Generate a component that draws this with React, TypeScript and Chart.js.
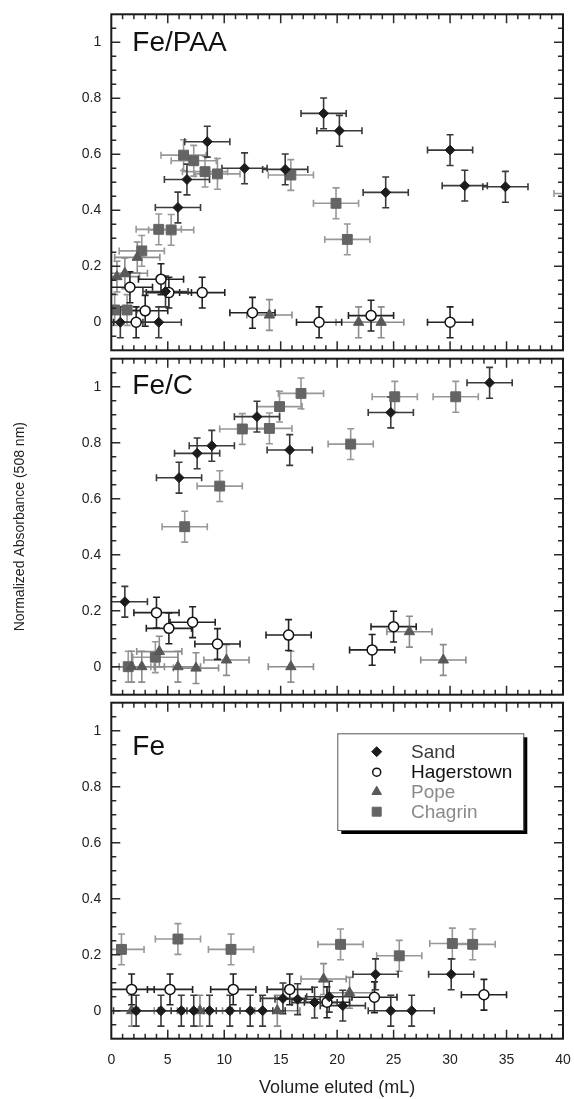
import React, { useEffect, useRef } from 'react';
import { Chart, registerables } from 'chart.js';

Chart.register(...registerables);

type P = [number, number];

const SERIES = ['Sand', 'Hagerstown', 'Pope', 'Chagrin'];
const X_TICK_VALUES = [0, 5, 10, 15, 20, 25, 30, 35, 40];
const X_TICK_LABELS = ['0', '5', '10', '15', '20', '25', '30', '35', '40'];
const Y_TICK_VALUES = [0, 0.2, 0.4, 0.6, 0.8, 1];
const Y_TICK_LABELS = ['0', '0.2', '0.4', '0.6', '0.8', '1'];
const X_ERR = 2;
const Y_ERR = 0.055;

// Fe/PAA panel
const paaSand: P[] = [[0.8, 0.0], [4.2, 0.0], [4.8, 0.11], [5.9, 0.41], [6.7, 0.51], [8.5, 0.645], [11.8, 0.55], [15.4, 0.546], [18.8, 0.746], [20.2, 0.684], [24.3, 0.464], [30.0, 0.615], [31.3, 0.488], [34.9, 0.484]];
const paaHager: P[] = [[1.65, 0.125], [2.2, 0.0], [3.0, 0.041], [4.4, 0.154], [5.1, 0.106], [8.05, 0.106], [12.5, 0.034], [18.4, 0.0], [23.0, 0.024], [30.0, 0.0]];
const paaPope: P[] = [[0.5, 0.163], [1.2, 0.175], [2.3, 0.232], [14.0, 0.026], [21.9, 0.0], [23.9, 0.0]];
const paaChagrin: P[] = [[0.3, 0.044], [1.4, 0.044], [2.7, 0.255], [4.2, 0.332], [5.3, 0.33], [6.4, 0.597], [7.3, 0.577], [8.3, 0.538], [9.4, 0.53], [15.9, 0.526], [19.9, 0.425], [20.9, 0.296], [41.2, 0.46]];

// Fe/C panel
const cSand: P[] = [[1.2, 0.232], [6.0, 0.675], [7.6, 0.762], [8.9, 0.789], [12.9, 0.893], [15.8, 0.774], [24.75, 0.908], [33.5, 1.014]];
const cHager: P[] = [[4.0, 0.193], [5.1, 0.137], [7.2, 0.159], [9.4, 0.081], [15.7, 0.113], [23.1, 0.06], [25.0, 0.143]];
const cPope: P[] = [[1.8, 0.0], [2.7, 0.0], [4.25, 0.054], [5.9, 0.0], [7.5, -0.005], [10.2, 0.024], [15.9, 0.0], [26.4, 0.125], [29.4, 0.024]];
const cChagrin: P[] = [[1.5, 0.0], [3.9, 0.034], [6.5, 0.5], [9.6, 0.645], [11.6, 0.849], [14.0, 0.851], [14.9, 0.929], [16.8, 0.976], [21.2, 0.795], [25.1, 0.964], [30.5, 0.964]];

// Fe panel
const feSand: P[] = [[2.2, 0], [4.4, 0], [6.2, 0], [7.3, 0], [8.7, 0], [10.5, 0], [12.3, 0], [13.4, 0], [15.2, 0.044], [16.5, 0.041], [18.0, 0.029], [19.3, 0.05], [20.5, 0.018], [23.4, 0.13], [24.75, 0], [26.6, 0], [30.1, 0.13]];
const feHager: P[] = [[1.8, 0.076], [5.2, 0.076], [10.8, 0.076], [15.8, 0.076], [19.1, 0.03], [23.3, 0.048], [33.0, 0.057]];
const fePope: P[] = [[1.8, 0], [7.85, 0], [14.7, 0], [18.8, 0.113], [21.1, 0.064]];
const feChagrin: P[] = [[0.9, 0.219], [5.9, 0.256], [10.6, 0.219], [20.3, 0.237], [25.5, 0.196], [30.2, 0.24], [32.0, 0.237]];

const FONT = '"Liberation Sans", Arial, Helvetica, sans-serif';
Chart.defaults.font.family = FONT;
Chart.defaults.color = '#222';

const STY = [
  { shape: 'rectRot', r: 5, fill: '#1c1c1c', stroke: '#1c1c1c', bw: 1, bar: '#3a3a3a', text: '#3a3a3a' },
  { shape: 'circle', r: 5, fill: '#ffffff', stroke: '#111111', bw: 1.5, bar: '#222222', text: '#111111' },
  { shape: 'triangle', r: 6, fill: '#585858', stroke: '#585858', bw: 1, bar: '#8c8c8c', text: '#8a8a8a' },
  { shape: 'rect', r: 7, fill: '#646464', stroke: '#646464', bw: 1, bar: '#989898', text: '#8a8a8a' },
];

const PANELS = [
  { top: 0, h: 354, padTop: 14.3, padBottom: 3.7, showX: false, yTitle: false, label: 'Fe/PAA', labelDy: 36.4, legend: false, series: [paaSand, paaHager, paaPope, paaChagrin] },
  { top: 354, h: 345, padTop: 4.7, padBottom: 4.3, showX: false, yTitle: true, label: 'Fe/C', labelDy: 35.5, legend: false, series: [cSand, cHager, cPope, cChagrin] },
  { top: 699, h: 400, padTop: 3.7, padBottom: 0, showX: true, yTitle: false, label: 'Fe', labelDy: 52, legend: true, series: [feSand, feHager, fePope, feChagrin] },
];

function drawMarker(ctx: CanvasRenderingContext2D, shape: string, x: number, y: number, s: any) {
  ctx.save();
  ctx.fillStyle = s.fill;
  ctx.strokeStyle = s.stroke;
  ctx.lineWidth = s.bw;
  ctx.beginPath();
  if (shape === 'rectRot') {
    const r = 5;
    ctx.moveTo(x - r, y); ctx.lineTo(x, y - r); ctx.lineTo(x + r, y); ctx.lineTo(x, y + r); ctx.closePath();
  } else if (shape === 'circle') {
    ctx.arc(x, y, 4, 0, Math.PI * 2);
  } else if (shape === 'triangle') {
    const r = 5.5;
    ctx.moveTo(x, y - r);
    ctx.lineTo(x + r * Math.sin(Math.PI * 2 / 3), y - r * Math.cos(Math.PI * 2 / 3));
    ctx.lineTo(x + r * Math.sin(Math.PI * 4 / 3), y - r * Math.cos(Math.PI * 4 / 3));
    ctx.closePath();
  } else {
    const h = 4.5;
    ctx.rect(x - h, y - h, 2 * h, 2 * h);
  }
  ctx.fill();
  ctx.stroke();
  ctx.restore();
}

const decoPlugin = {
  id: 'panelDeco',
  beforeDatasetsDraw(chart: any) {
    const { ctx, chartArea: ca } = chart;
    const xs = chart.scales.x;
    const ys = chart.scales.y;
    const CAP = 3.5;
    ctx.save();
    ctx.beginPath();
    ctx.rect(ca.left, ca.top, ca.right - ca.left, ca.bottom - ca.top);
    ctx.clip();
    const ds = chart.data.datasets;
    for (let i = ds.length - 1; i >= 0; i--) {
      const d: any = ds[i];
      ctx.strokeStyle = d.errorColor;
      ctx.lineWidth = 1.6;
      for (const p of d.data) {
        const cx = xs.getPixelForValue(p.x);
        const cy = ys.getPixelForValue(p.y);
        const x0 = xs.getPixelForValue(p.x - X_ERR);
        const x1 = xs.getPixelForValue(p.x + X_ERR);
        const y0 = ys.getPixelForValue(p.y - Y_ERR);
        const y1 = ys.getPixelForValue(p.y + Y_ERR);
        ctx.beginPath();
        ctx.moveTo(x0, cy); ctx.lineTo(x1, cy);
        ctx.moveTo(cx, y0); ctx.lineTo(cx, y1);
        ctx.moveTo(x0, cy - CAP); ctx.lineTo(x0, cy + CAP);
        ctx.moveTo(x1, cy - CAP); ctx.lineTo(x1, cy + CAP);
        ctx.moveTo(cx - CAP, y0); ctx.lineTo(cx + CAP, y0);
        ctx.moveTo(cx - CAP, y1); ctx.lineTo(cx + CAP, y1);
        ctx.stroke();
      }
    }
    ctx.restore();
  },
  afterDraw(chart: any, _args: any, opts: any) {
    const { ctx, chartArea: ca } = chart;
    const xs = chart.scales.x;
    const ys = chart.scales.y;
    ctx.save();
    ctx.strokeStyle = '#2a2a2a';
    ctx.lineWidth = 1.5;
    ctx.beginPath();
    for (let v = 1; v < 40; v++) {
      const len = v % 5 === 0 ? 9 : 5;
      const px = xs.getPixelForValue(v);
      ctx.moveTo(px, ca.top); ctx.lineTo(px, ca.top + len);
      ctx.moveTo(px, ca.bottom); ctx.lineTo(px, ca.bottom - len);
    }
    for (let k = -1; k < 22; k++) {
      const len = k % 4 === 0 ? 9 : 5;
      const py = ys.getPixelForValue(k * 0.05);
      ctx.moveTo(ca.left, py); ctx.lineTo(ca.left + len, py);
      ctx.moveTo(ca.right, py); ctx.lineTo(ca.right - len, py);
    }
    ctx.stroke();
    ctx.strokeStyle = '#1a1a1a';
    ctx.lineWidth = 2;
    ctx.strokeRect(ca.left, ca.top, ca.right - ca.left, ca.bottom - ca.top);
    ctx.fillStyle = '#111';
    ctx.font = `28px ${FONT}`;
    ctx.textAlign = 'left';
    ctx.textBaseline = 'alphabetic';
    ctx.fillText(opts.label, ca.left + 21, ca.top + opts.labelDy);
    if (opts.legend) {
      const bx = ca.left + 226;
      const by = ca.top + 30.6;
      const bw = 186;
      const bh = 96.7;
      ctx.fillStyle = '#000';
      ctx.fillRect(bx + 4, by + 4, bw, bh);
      ctx.fillStyle = '#fff';
      ctx.fillRect(bx, by, bw, bh);
      ctx.strokeStyle = '#555';
      ctx.lineWidth = 1;
      ctx.strokeRect(bx + 0.5, by + 0.5, bw, bh);
      ctx.font = `19px ${FONT}`;
      ctx.textBaseline = 'middle';
      const rows = [18.4, 38.9, 58.4, 78.4];
      SERIES.forEach((name, k) => {
        const y = by + rows[k];
        drawMarker(ctx, STY[k].shape, ca.left + 265.4, y, STY[k]);
        ctx.fillStyle = STY[k].text;
        ctx.fillText(name, ca.left + 299.7, y + 1);
      });
    }
    ctx.restore();
  },
};

function zeroPad(s: any) {
  s.paddingTop = 0;
  s.paddingBottom = 0;
  s.paddingLeft = 0;
  s.paddingRight = 0;
}

function makeConfig(p: any): any {
  return {
    type: 'scatter',
    data: {
      datasets: SERIES.map((name, k) => ({
        label: name,
        data: p.series[k].map(([x, y]: P) => ({ x, y })),
        pointStyle: STY[k].shape,
        pointRadius: STY[k].r,
        pointBackgroundColor: STY[k].fill,
        pointBorderColor: STY[k].stroke,
        pointBorderWidth: STY[k].bw,
        errorColor: STY[k].bar,
      })),
    },
    options: {
      responsive: false,
      animation: false,
      devicePixelRatio: 1,
      events: [],
      layout: { autoPadding: false, padding: { top: p.padTop, bottom: p.padBottom, left: 0, right: 11 } },
      plugins: {
        legend: { display: false },
        tooltip: { enabled: false },
        panelDeco: { label: p.label, labelDy: p.labelDy, legend: p.legend },
      },
      scales: {
        x: {
          type: 'linear',
          min: 0,
          max: 40,
          display: p.showX,
          position: 'bottom',
          grid: { display: false, drawTicks: false },
          border: { display: false },
          afterBuildTicks: (s: any) => { s.ticks = X_TICK_VALUES.map((v) => ({ value: v })); },
          ticks: { callback: (_v: any, i: number) => X_TICK_LABELS[i], padding: 13, maxRotation: 0, autoSkip: false, font: { size: 14 }, color: '#222' },
          title: { display: p.showX, text: 'Volume eluted (mL)', font: { size: 18 }, padding: { top: 0, bottom: 0 }, color: '#222' },
          afterFit: (s: any) => { zeroPad(s); if (p.showX) s.height = 60.3; },
        },
        y: {
          type: 'linear',
          min: -0.1,
          max: 1.1,
          position: 'left',
          grid: { display: false, drawTicks: false },
          border: { display: false },
          afterBuildTicks: (s: any) => { s.ticks = Y_TICK_VALUES.map((v) => ({ value: v })); },
          ticks: { callback: (_v: any, i: number) => Y_TICK_LABELS[i], padding: 10, font: { size: 14 }, color: '#222' },
          title: { display: p.yTitle, text: 'Normalized Absorbance (508 nm)', font: { size: 14 }, padding: { top: 11.6, bottom: 0 }, color: '#222' },
          afterFit: (s: any) => { zeroPad(s); s.width = 111.3; },
        },
      },
    },
    plugins: [decoPlugin],
  };
}

export default function App() {
  const refs = useRef<(HTMLCanvasElement | null)[]>([]);
  useEffect(() => {
    const charts = PANELS.map((p, i) => new Chart(refs.current[i] as HTMLCanvasElement, makeConfig(p)));
    return () => charts.forEach((c) => c.destroy());
  }, []);
  return (
    <div style={{ position: 'absolute', left: 0, top: 0, width: 574, height: 1099, background: '#fff' }}>
      {PANELS.map((p, i) => (
        <canvas
          key={i}
          ref={(el) => { refs.current[i] = el; }}
          width={574}
          height={p.h}
          style={{ position: 'absolute', left: 0, top: p.top, width: 574, height: p.h, display: 'block' }}
        />
      ))}
    </div>
  );
}
